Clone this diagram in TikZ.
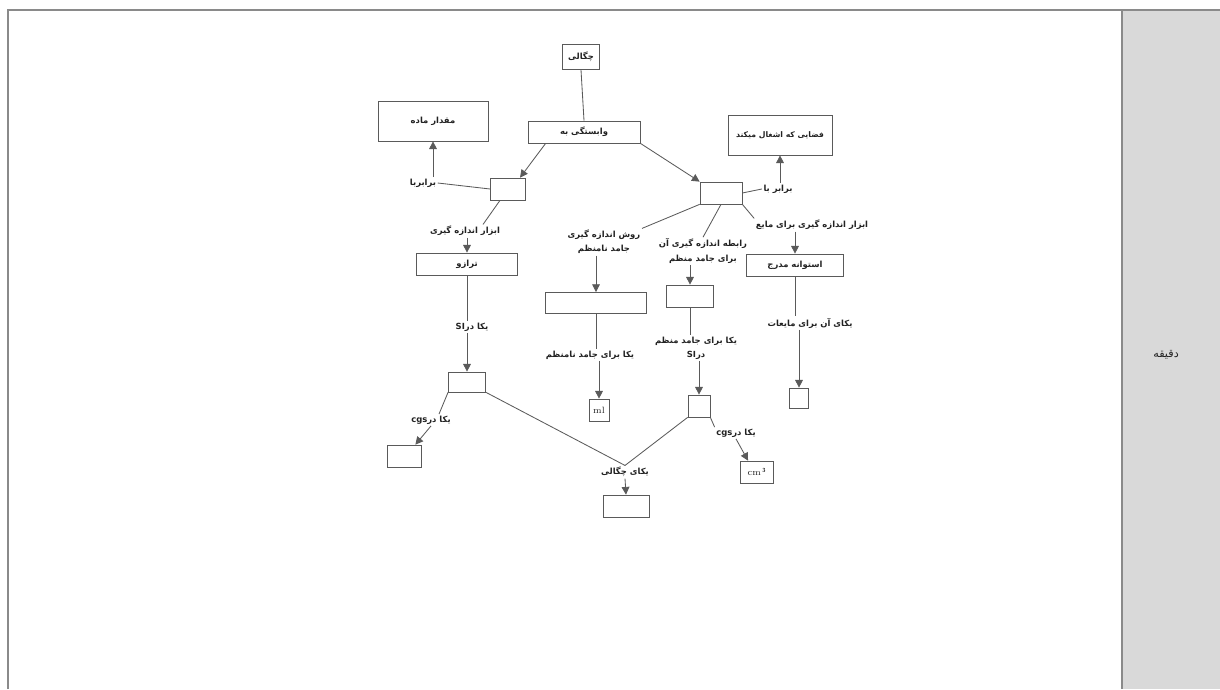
\documentclass[tikz,border=0pt]{standalone}
\usepackage{fontspec}
\usetikzlibrary{arrows.meta}
\newfontfamily\farsi[Script=Arabic]{DejaVu Sans}
\TeXXeTstate=1
\newcommand{\fa}[1]{\beginR #1\endR}
\definecolor{framegray}{HTML}{8A8A8A}
\definecolor{colgray}{HTML}{D9D9D9}
\definecolor{boxgray}{HTML}{5A5A5A}
\definecolor{txt}{HTML}{222222}
\tikzset{
  box/.style={draw=boxgray, line width=0.5pt, inner sep=0pt, text=txt,
    font=\farsi\bfseries\fontsize{6}{8}\selectfont},
  lbl/.style={inner sep=1pt, align=center, text=txt,
    font=\farsi\bfseries\fontsize{6}{10}\selectfont},
  link/.style={draw=boxgray, line width=0.6pt},
  arr/.style={link, -{Triangle[length=5.5pt,width=5.5pt]}}
}
\begin{document}
\begin{tikzpicture}[x=0.025cm, y=-0.025cm]
\useasboundingbox (0,0) rectangle (1220,689);
%frame:
\fill[colgray] (1122,10) rectangle (1220,689);
\draw[framegray, line width=1.2pt] (8,689) -- (8,10) -- (1220,10);
\draw[framegray, line width=0.8pt] (1122,10) -- (1122,689);
\node[lbl, font=\farsi\fontsize{8}{10}\selectfont] (minute) at (1166,355) {\fa{دقیقه}};
%top:
\node[box, minimum width=0.93cm, minimum height=0.63cm] (rho) at (581,57) {\fa{چگالی}};
\node[box, minimum width=2.8cm, minimum height=0.55cm] (vab) at (584,132) {\fa{وابستگی به}};
\node[box, minimum width=2.75cm, minimum height=1cm] (mass) at (433,121) {\fa{مقدار ماده}};
\node[box, minimum width=2.6cm, minimum height=1cm, font=\farsi\bfseries\fontsize{5.5}{8}\selectfont] (space) at (780,135) {\fa{فضایی که اشغال میکند}};
\node[box, minimum width=0.88cm, minimum height=0.55cm] (boxL) at (508,189) {};
\node[box, minimum width=1.05cm, minimum height=0.55cm] (boxR) at (721,193) {};
\node[lbl] (eqL) at (423,183) {\fa{برابربا}};
\node[lbl] (eqR) at (778,189) {\fa{برابر با}};
%left branch:
\node[lbl] (toolL) at (465,231) {\fa{ابزار اندازه گیری}};
\node[box, minimum width=2.53cm, minimum height=0.55cm] (scale) at (467,264) {\fa{ترازو}};
\node[lbl] (siL) at (472,327) {\fa{یکا در\beginL SI\endL}};
\node[box, minimum width=0.93cm, minimum height=0.5cm] (siBox) at (467,382) {};
\node[lbl] (cgsL) at (431,420) {\fa{یکا در\beginL cgs\endL}};
\node[box, minimum width=0.85cm, minimum height=0.55cm] (cgsBox) at (404,456) {};
%irregular solid:
\node[lbl] (irrLbl) at (604,242) {\fa{روش اندازه گیری}\\\fa{جامد نامنظم}};
\node[box, minimum width=2.53cm, minimum height=0.53cm] (irr) at (596,303) {};
\node[lbl] (irrUnit) at (590,355) {\fa{یکا برای جامد نامنظم}};
\node[box, minimum width=0.5cm, minimum height=0.55cm, font=\rmfamily\fontsize{6.5}{8}\selectfont] (ml) at (599,410) {ml};
%regular solid:
\node[lbl] (regLbl) at (703,251) {\fa{رابطه اندازه گیری آن}\\\fa{برای جامد منظم}};
\node[box, minimum width=1.18cm, minimum height=0.55cm] (reg) at (690,296) {};
\node[lbl] (regUnit) at (696,348) {\fa{یکا برای جامد منظم}\\\fa{در\beginL SI\endL}};
\node[box, minimum width=0.55cm, minimum height=0.55cm] (siR) at (699,406) {};
\node[lbl] (cgsR) at (736,433) {\fa{یکا در\beginL cgs\endL}};
\node[box, minimum width=0.83cm, minimum height=0.55cm, font=\rmfamily\fontsize{6.5}{8}\selectfont] (cm3) at (757,472) {cm\,$^{\mathbf{3}}$};
%liquid:
\node[lbl] (toolR) at (812,225) {\fa{ابزار اندازه گیری برای مایع}};
\node[box, minimum width=2.43cm, minimum height=0.55cm] (cyl) at (795,265) {\fa{استوانه مدرج}};
\node[lbl] (liqUnit) at (810,323) {\fa{یکای آن برای مایعات}};
\node[box, minimum width=0.48cm, minimum height=0.5cm] (liq) at (799,398) {};
%density unit:
\node[lbl] (densUnit) at (625,472) {\fa{یکای چگالی}};
\node[box, minimum width=1.15cm, minimum height=0.55cm] (dens) at (626,506) {};
%links:
\draw[link] (rho.south) -- (vab.north);
\draw[arr] ([xshift=0.45cm]vab.south west) -- ([xshift=0.3cm]boxL.north);
\draw[arr] (vab.south east) -- (boxR.north west);
\draw[link] (eqL.east) -- (boxL.west);
\draw[arr] (mass.south |- eqL.north) -- (mass.south);
\draw[link] (boxR.east) -- (eqR.west);
\draw[arr] (space.south |- eqR.north) -- (space.south);
\draw[link] ([xshift=-0.2cm]boxL.south) -- ([xshift=0.45cm]toolL.north);
\draw[arr] (scale.north |- toolL.south) -- (scale.north);
\draw[link] (scale.south) -- (scale.south |- siL.north);
\draw[arr] (siBox.north |- siL.south) -- (siBox.north);
\draw[link] (siBox.south west) -- ([xshift=0.2cm]cgsL.north);
\draw[arr] (cgsL.south) -- ([xshift=-0.15cm]cgsBox.north east);
\draw[link] (siBox.south east) -- (densUnit.north);
\draw[link] (boxR.south west) -- (irrLbl.north east);
\draw[arr] (irr.north |- irrLbl.south) -- (irr.north);
\draw[link] (irr.south) -- (irr.south |- irrUnit.north);
\draw[arr] (ml.north |- irrUnit.south) -- (ml.north);
\draw[link] (boxR.south) -- (regLbl.north);
\draw[arr] (reg.north |- regLbl.south) -- (reg.north);
\draw[link] (reg.south) -- (reg.south |- regUnit.north);
\draw[arr] (siR.north |- regUnit.south) -- (siR.north);
\draw[link] (siR.south east) -- (cgsR.north west);
\draw[arr] (cgsR.south) -- ([xshift=0.2cm]cm3.north west);
\draw[link] (siR.south west) -- (densUnit.north);
\draw[link] (boxR.south east) -- (toolR.north west);
\draw[arr] (cyl.north |- toolR.south) -- (cyl.north);
\draw[link] (cyl.south) -- (cyl.south |- liqUnit.north);
\draw[arr] (liq.north |- liqUnit.south) -- (liq.north);
\draw[arr] (densUnit.south) -- (dens.north);
\end{tikzpicture}
\end{document}
